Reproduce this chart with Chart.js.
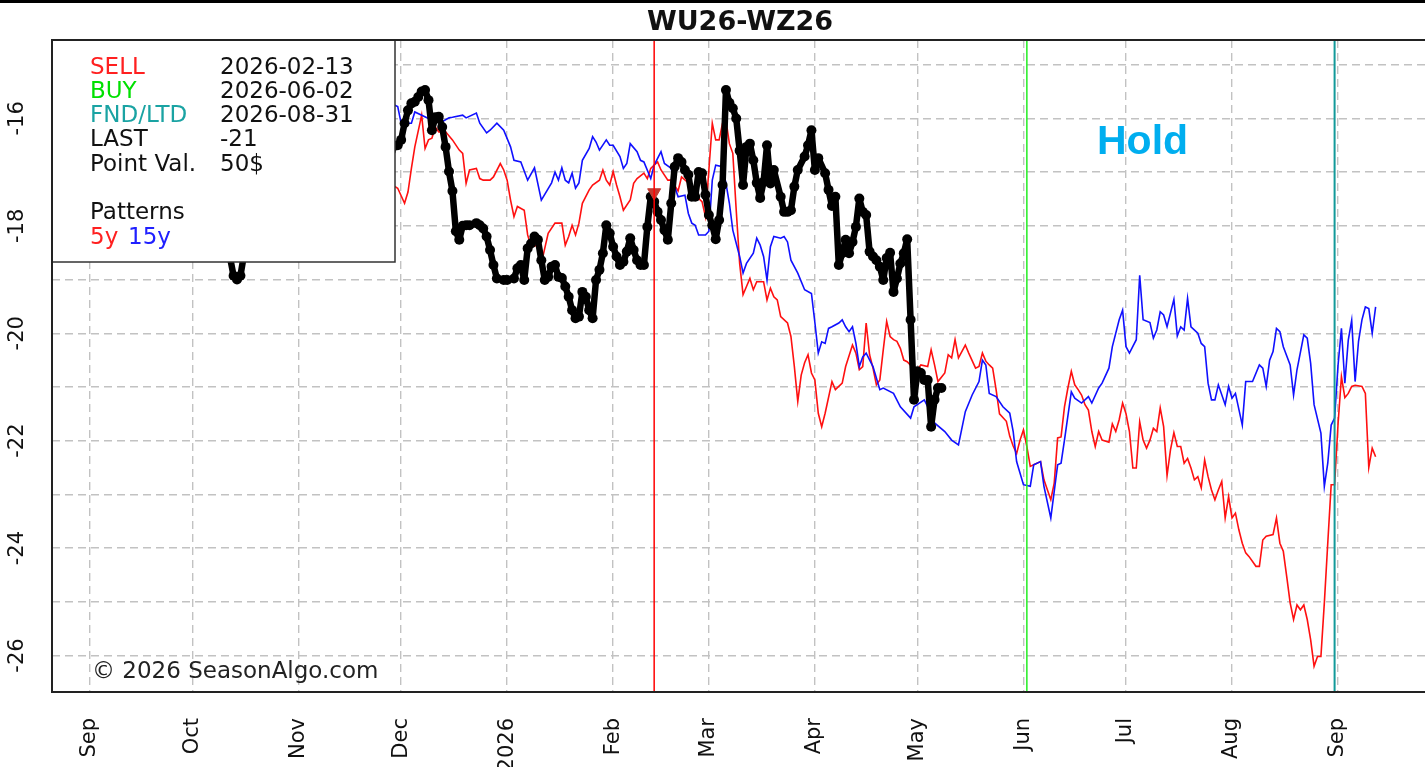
<!DOCTYPE html>
<html><head><meta charset="utf-8">
<script src="https://cdn.jsdelivr.net/npm/chart.js@4.4.1/dist/chart.umd.min.js"></script>
<style>html,body{margin:0;padding:0;background:#fff;overflow:hidden}canvas{display:block}</style>
</head><body>
<canvas id="c" width="1425" height="767"></canvas>
<script>
const chartTitle = "WU26-WZ26";
const monthTickDates = ["2025-09-01","2025-10-01","2025-11-01","2025-12-01","2026-01-01","2026-02-01","2026-03-01","2026-04-01","2026-05-01","2026-06-01","2026-07-01","2026-08-01","2026-09-01"];
const monthTickLabels = ["Sep","Oct","Nov","Dec","2026","Feb","Mar","Apr","May","Jun","Jul","Aug","Sep"];
const yGridValues = [-26,-25,-24,-23,-22,-21,-20,-19,-18,-17,-16,-15];
const yLabelValues = [-26,-24,-22,-20,-18,-16];
const sellDate = "2026-02-13", buyDate = "2026-06-02", fndDate = "2026-08-31";
const sellMarkerValue = -17.38;
const infoLabels = ["SELL","BUY","FND/LTD","LAST","Point Val."];
const infoValues = ["2026-02-13","2026-06-02","2026-08-31","-21","50$"];
const holdText = "Hold";
const copyrightText = "\u00A9 2026 SeasonAlgo.com";

const blackDates = ["2025-10-09","2025-10-12","2025-10-13","2025-10-14","2025-10-15","2025-10-16","2025-10-31","2025-11-15","2025-11-28","2025-11-30",
"2025-12-01","2025-12-02","2025-12-03","2025-12-04","2025-12-05","2025-12-06","2025-12-07","2025-12-08","2025-12-09","2025-12-10",
"2025-12-11","2025-12-12","2025-12-13","2025-12-14","2025-12-15","2025-12-16","2025-12-17","2025-12-18","2025-12-19","2025-12-20",
"2025-12-21","2025-12-23","2025-12-24","2025-12-25","2025-12-26","2025-12-27","2025-12-28","2025-12-29","2025-12-31","2026-01-01",
"2026-01-03","2026-01-04","2026-01-05","2026-01-06","2026-01-07","2026-01-08","2026-01-09","2026-01-10","2026-01-11","2026-01-12",
"2026-01-13","2026-01-14","2026-01-15","2026-01-16","2026-01-17","2026-01-18","2026-01-19","2026-01-20","2026-01-21","2026-01-22",
"2026-01-23","2026-01-24","2026-01-25","2026-01-26","2026-01-27","2026-01-28","2026-01-29","2026-01-30","2026-01-31","2026-02-01",
"2026-02-02","2026-02-03","2026-02-04","2026-02-05","2026-02-06","2026-02-07","2026-02-08","2026-02-09","2026-02-10","2026-02-11",
"2026-02-12","2026-02-13","2026-02-14","2026-02-15","2026-02-16","2026-02-17","2026-02-18","2026-02-19","2026-02-20","2026-02-21",
"2026-02-22","2026-02-23","2026-02-24","2026-02-25","2026-02-26","2026-02-27","2026-02-28","2026-03-01","2026-03-02","2026-03-03",
"2026-03-04","2026-03-05","2026-03-06","2026-03-07","2026-03-08","2026-03-09","2026-03-10","2026-03-11","2026-03-12","2026-03-13",
"2026-03-14","2026-03-15","2026-03-16","2026-03-17","2026-03-18","2026-03-19","2026-03-20","2026-03-22","2026-03-23","2026-03-24",
"2026-03-25","2026-03-26","2026-03-27","2026-03-29","2026-03-30","2026-03-31","2026-04-01","2026-04-02","2026-04-04","2026-04-05",
"2026-04-06","2026-04-07","2026-04-08","2026-04-09","2026-04-10","2026-04-11","2026-04-12","2026-04-13","2026-04-14","2026-04-15",
"2026-04-16","2026-04-17","2026-04-18","2026-04-19","2026-04-20","2026-04-21","2026-04-22","2026-04-23","2026-04-24","2026-04-25",
"2026-04-26","2026-04-27","2026-04-28","2026-04-29","2026-04-30","2026-05-01","2026-05-02","2026-05-03","2026-05-04","2026-05-05",
"2026-05-06","2026-05-07","2026-05-08"];
const blackValues = [-18.0,-18.60,-18.93,-19.00,-18.93,-18.55,-17.6,-17.0,-16.6,-16.50,
-16.40,-16.09,-15.85,-15.72,-15.69,-15.60,-15.50,-15.47,-15.66,-16.22,
-15.98,-15.97,-16.16,-16.53,-16.99,-17.35,-18.10,-18.26,-18.00,-17.99,
-17.99,-17.95,-17.99,-18.05,-18.20,-18.45,-18.73,-18.98,-19.01,-19.01,
-18.98,-18.79,-18.73,-19.01,-18.42,-18.33,-18.20,-18.26,-18.64,-19.01,
-18.95,-18.76,-18.73,-18.95,-18.97,-19.13,-19.32,-19.57,-19.72,-19.69,
-19.23,-19.32,-19.57,-19.72,-19.01,-18.82,-18.51,-17.99,-18.14,-18.39,
-18.57,-18.73,-18.67,-18.48,-18.23,-18.45,-18.64,-18.73,-18.73,-18.02,
-17.46,-17.55,-17.74,-17.89,-18.08,-18.26,-17.58,-16.90,-16.74,-16.81,
-16.96,-17.05,-17.46,-17.46,-17.00,-17.02,-17.42,-17.80,-17.99,-18.25,
-17.89,-17.24,-15.47,-15.71,-15.81,-16.00,-16.60,-17.24,-16.53,-16.47,
-16.78,-17.20,-17.48,-17.18,-16.50,-17.21,-16.96,-17.46,-17.74,-17.74,
-17.71,-17.27,-16.96,-16.71,-16.50,-16.22,-16.96,-16.74,-17.02,-17.33,
-17.63,-17.46,-18.73,-18.51,-18.26,-18.51,-18.30,-18.02,-17.49,-17.74,
-17.80,-18.48,-18.57,-18.64,-18.76,-19.01,-18.60,-18.50,-19.23,-18.98,
-18.70,-18.51,-18.25,-19.75,-21.24,-20.71,-20.74,-20.87,-20.87,-21.74,
-21.24,-21.02,-21.02];

const p5Dates = ["2025-11-29","2025-11-30","2025-12-02","2025-12-03","2025-12-04","2025-12-05","2025-12-07","2025-12-08","2025-12-09","2025-12-10",
"2025-12-11","2025-12-12","2025-12-14","2025-12-16","2025-12-18","2025-12-19","2025-12-20","2025-12-21","2025-12-23","2025-12-24",
"2025-12-25","2025-12-27","2025-12-28","2025-12-30","2025-12-31","2026-01-01","2026-01-02","2026-01-03","2026-01-04","2026-01-06",
"2026-01-07","2026-01-08","2026-01-10","2026-01-11","2026-01-13","2026-01-15","2026-01-17","2026-01-18","2026-01-19","2026-01-20",
"2026-01-21","2026-01-22","2026-01-23","2026-01-25","2026-01-26","2026-01-28","2026-01-29","2026-01-30","2026-01-31","2026-02-01",
"2026-02-02","2026-02-03","2026-02-04","2026-02-06","2026-02-07","2026-02-08","2026-02-10","2026-02-11","2026-02-12","2026-02-14",
"2026-02-15","2026-02-17","2026-02-18","2026-02-20","2026-02-21","2026-02-23","2026-02-25","2026-02-27","2026-02-28","2026-03-02",
"2026-03-03","2026-03-04","2026-03-05","2026-03-06","2026-03-07","2026-03-08","2026-03-09","2026-03-10","2026-03-11","2026-03-12",
"2026-03-13","2026-03-14","2026-03-15","2026-03-17","2026-03-18","2026-03-19","2026-03-20","2026-03-21","2026-03-22","2026-03-24",
"2026-03-25","2026-03-26","2026-03-27","2026-03-28","2026-03-29","2026-03-30","2026-03-31","2026-04-01","2026-04-02","2026-04-03",
"2026-04-04","2026-04-06","2026-04-07","2026-04-09","2026-04-10","2026-04-12","2026-04-13","2026-04-14","2026-04-15","2026-04-16",
"2026-04-17","2026-04-18","2026-04-19","2026-04-20","2026-04-21","2026-04-22","2026-04-23","2026-04-24","2026-04-25","2026-04-26",
"2026-04-27","2026-04-28","2026-04-30","2026-05-01","2026-05-02","2026-05-04","2026-05-05","2026-05-06","2026-05-07","2026-05-09",
"2026-05-10","2026-05-11","2026-05-12","2026-05-13","2026-05-15","2026-05-16","2026-05-18","2026-05-19","2026-05-20","2026-05-21",
"2026-05-22","2026-05-23","2026-05-24","2026-05-25","2026-05-27","2026-05-28","2026-05-29","2026-05-30","2026-05-31","2026-06-01",
"2026-06-02","2026-06-03","2026-06-04","2026-06-06","2026-06-07","2026-06-09","2026-06-10","2026-06-11","2026-06-12","2026-06-13",
"2026-06-14","2026-06-15","2026-06-16","2026-06-17","2026-06-18","2026-06-19","2026-06-20","2026-06-21","2026-06-22","2026-06-23",
"2026-06-24","2026-06-26","2026-06-27","2026-06-28","2026-06-29","2026-06-30","2026-07-01","2026-07-02","2026-07-03","2026-07-04",
"2026-07-05","2026-07-06","2026-07-07","2026-07-08","2026-07-09","2026-07-10","2026-07-11","2026-07-12","2026-07-13","2026-07-14",
"2026-07-15","2026-07-16","2026-07-17","2026-07-18","2026-07-19","2026-07-20","2026-07-21","2026-07-22","2026-07-23","2026-07-24",
"2026-07-25","2026-07-26","2026-07-27","2026-07-28","2026-07-29","2026-07-30","2026-07-31","2026-08-01","2026-08-02","2026-08-03",
"2026-08-04","2026-08-05","2026-08-06","2026-08-08","2026-08-09","2026-08-10","2026-08-11","2026-08-13","2026-08-14","2026-08-15",
"2026-08-16","2026-08-17","2026-08-18","2026-08-19","2026-08-20","2026-08-21","2026-08-22","2026-08-23","2026-08-24","2026-08-25",
"2026-08-26","2026-08-27","2026-08-28","2026-08-29","2026-08-30","2026-08-31","2026-09-01","2026-09-02","2026-09-03","2026-09-04",
"2026-09-05","2026-09-06","2026-09-08","2026-09-09","2026-09-10","2026-09-11","2026-09-12"];
const p5Values = [-17.26,-17.30,-17.58,-17.37,-16.93,-16.53,-15.94,-16.56,-16.40,-16.37,
-16.16,-16.25,-16.25,-16.40,-16.59,-16.65,-17.21,-16.96,-16.93,-17.12,
-17.15,-17.15,-17.09,-16.84,-16.96,-17.15,-17.52,-17.83,-17.64,-17.71,
-18.17,-18.39,-18.36,-18.70,-18.14,-17.95,-17.95,-18.36,-18.20,-17.99,
-18.17,-17.95,-17.58,-17.33,-17.24,-17.15,-16.96,-17.15,-17.24,-16.99,
-17.24,-17.46,-17.71,-17.52,-17.21,-17.12,-17.02,-17.12,-16.93,-16.81,
-16.96,-17.15,-17.15,-17.35,-17.09,-17.20,-17.43,-17.55,-17.83,-16.09,
-16.40,-16.40,-16.09,-16.03,-16.47,-16.65,-17.71,-18.70,-19.28,-19.13,
-18.98,-19.19,-19.04,-19.04,-19.38,-19.16,-19.32,-19.38,-19.69,-19.81,
-20.06,-20.62,-21.27,-20.78,-20.55,-20.40,-20.74,-20.87,-21.49,-21.74,
-21.49,-20.90,-21.05,-20.93,-20.62,-20.22,-20.37,-20.68,-20.62,-19.81,
-20.40,-20.65,-20.96,-20.87,-20.31,-19.78,-20.06,-20.12,-20.15,-20.28,
-20.50,-20.53,-20.66,-20.68,-20.59,-20.62,-20.31,-20.59,-20.90,-20.74,
-20.40,-20.46,-20.12,-20.46,-20.22,-20.37,-20.65,-20.62,-20.37,-20.52,
-20.59,-20.65,-21.05,-21.50,-21.64,-21.92,-22.10,-22.24,-21.99,-21.80,
-22.11,-22.48,-22.45,-22.39,-22.73,-23.10,-22.79,-21.95,-21.93,-21.37,
-21.02,-20.71,-20.96,-21.05,-21.15,-21.33,-21.43,-21.83,-22.11,-21.83,
-21.99,-22.03,-21.69,-21.83,-21.61,-21.30,-21.50,-21.83,-22.51,-22.51,
-21.65,-21.99,-22.14,-21.99,-21.77,-21.83,-21.39,-21.74,-22.65,-22.17,
-21.85,-22.11,-22.11,-22.42,-22.33,-22.51,-22.73,-22.67,-22.88,-22.36,
-22.67,-22.92,-23.10,-22.92,-22.76,-23.44,-23.04,-23.44,-23.35,-23.66,
-23.91,-24.09,-24.16,-24.34,-24.34,-23.85,-23.78,-23.75,-23.44,-23.91,
-24.06,-24.53,-25.02,-25.33,-25.06,-25.15,-25.06,-25.33,-25.71,-26.20,
-26.02,-26.02,-25.02,-23.91,-22.82,-22.82,-21.70,-20.81,-21.20,-21.12,
-20.99,-20.97,-20.99,-21.12,-22.50,-22.14,-22.30];

const p15Dates = ["2025-11-29","2025-11-30","2025-12-01","2025-12-04","2025-12-05","2025-12-09","2025-12-11","2025-12-13","2025-12-15","2025-12-16",
"2025-12-19","2025-12-20","2025-12-23","2025-12-24","2025-12-26","2025-12-27","2025-12-29","2025-12-31","2026-01-02","2026-01-03",
"2026-01-05","2026-01-07","2026-01-09","2026-01-11","2026-01-14","2026-01-15","2026-01-16","2026-01-17","2026-01-18","2026-01-19",
"2026-01-20","2026-01-21","2026-01-22","2026-01-23","2026-01-25","2026-01-26","2026-01-27","2026-01-28","2026-01-30","2026-01-31",
"2026-02-01","2026-02-03","2026-02-04","2026-02-05","2026-02-06","2026-02-08","2026-02-09","2026-02-10","2026-02-12","2026-02-13",
"2026-02-15","2026-02-16","2026-02-18","2026-02-19","2026-02-20","2026-02-22","2026-02-23","2026-02-24","2026-02-25","2026-02-26",
"2026-02-28","2026-03-01","2026-03-02","2026-03-03","2026-03-05","2026-03-06","2026-03-07","2026-03-08","2026-03-10","2026-03-11",
"2026-03-12","2026-03-14","2026-03-15","2026-03-16","2026-03-17","2026-03-18","2026-03-19","2026-03-20","2026-03-22","2026-03-23",
"2026-03-24","2026-03-25","2026-03-27","2026-03-29","2026-03-31","2026-04-01","2026-04-02","2026-04-03","2026-04-04","2026-04-05",
"2026-04-06","2026-04-08","2026-04-09","2026-04-10","2026-04-11","2026-04-12","2026-04-13","2026-04-14","2026-04-15","2026-04-16",
"2026-04-18","2026-04-20","2026-04-21","2026-04-24","2026-04-26","2026-04-29","2026-04-30","2026-05-03","2026-05-05","2026-05-06",
"2026-05-09","2026-05-11","2026-05-13","2026-05-15","2026-05-17","2026-05-19","2026-05-20","2026-05-21","2026-05-22","2026-05-24",
"2026-05-26","2026-05-28","2026-05-29","2026-05-30","2026-06-01","2026-06-03","2026-06-04","2026-06-06","2026-06-07","2026-06-09",
"2026-06-11","2026-06-12","2026-06-13","2026-06-15","2026-06-16","2026-06-18","2026-06-20","2026-06-21","2026-06-23","2026-06-24",
"2026-06-26","2026-06-27","2026-06-29","2026-06-30","2026-07-01","2026-07-02","2026-07-04","2026-07-05","2026-07-06","2026-07-08",
"2026-07-09","2026-07-10","2026-07-11","2026-07-12","2026-07-13","2026-07-15","2026-07-16","2026-07-17","2026-07-18","2026-07-19",
"2026-07-20","2026-07-22","2026-07-23","2026-07-24","2026-07-25","2026-07-26","2026-07-27","2026-07-28","2026-07-30","2026-07-31",
"2026-08-01","2026-08-02","2026-08-04","2026-08-05","2026-08-07","2026-08-09","2026-08-10","2026-08-11","2026-08-12","2026-08-13",
"2026-08-14","2026-08-15","2026-08-16","2026-08-18","2026-08-19","2026-08-20","2026-08-22","2026-08-23","2026-08-24","2026-08-25",
"2026-08-27","2026-08-28","2026-08-29","2026-08-30","2026-08-31","2026-09-01","2026-09-02","2026-09-03","2026-09-04","2026-09-05",
"2026-09-06","2026-09-07","2026-09-08","2026-09-09","2026-09-10","2026-09-11","2026-09-12"];
const p15Values = [-15.75,-15.78,-16.09,-16.09,-15.88,-16.00,-16.07,-16.06,-15.99,-15.98,
-15.94,-15.99,-15.90,-16.09,-16.27,-16.22,-16.09,-16.22,-16.53,-16.78,
-16.81,-17.15,-16.92,-17.52,-17.20,-17.00,-17.15,-16.92,-17.15,-17.20,
-17.02,-17.30,-17.20,-16.78,-16.56,-16.34,-16.44,-16.59,-16.40,-16.50,
-16.50,-16.71,-16.93,-16.84,-16.47,-16.62,-16.78,-16.81,-17.12,-16.87,
-16.62,-16.84,-16.93,-17.27,-17.46,-17.43,-17.77,-17.95,-17.99,-18.17,
-18.17,-18.10,-17.15,-16.87,-16.90,-17.21,-17.58,-18.08,-18.57,-18.88,
-18.70,-18.51,-18.23,-18.36,-18.57,-19.01,-18.39,-18.20,-18.23,-18.20,
-18.30,-18.64,-18.88,-19.19,-19.26,-19.80,-20.37,-20.16,-20.19,-19.91,
-19.88,-19.81,-19.75,-19.88,-19.97,-19.88,-20.19,-20.62,-20.44,-20.37,
-20.62,-21.05,-21.02,-21.12,-21.37,-21.58,-21.37,-21.24,-21.49,-21.67,
-21.83,-21.99,-22.08,-21.46,-21.15,-20.90,-20.50,-20.59,-21.12,-21.18,
-21.37,-21.49,-21.83,-22.39,-22.82,-22.85,-22.45,-22.39,-22.85,-23.44,
-22.45,-22.42,-21.99,-21.09,-21.21,-21.30,-21.18,-21.30,-21.02,-20.93,
-20.65,-20.25,-19.75,-19.57,-20.25,-20.37,-20.12,-18.92,-19.75,-19.80,
-20.09,-19.94,-19.60,-19.66,-19.88,-19.37,-20.05,-19.88,-19.94,-19.35,
-19.88,-20.00,-20.19,-20.25,-20.93,-21.24,-21.24,-20.96,-21.33,-20.99,
-21.21,-21.12,-21.71,-20.90,-20.90,-20.59,-20.65,-20.99,-20.50,-20.34,
-19.91,-19.97,-20.25,-20.59,-21.15,-20.68,-20.03,-20.09,-20.56,-21.33,
-21.86,-22.85,-22.42,-21.71,-21.58,-20.60,-19.91,-20.93,-20.13,-19.76,
-20.90,-20.15,-19.75,-19.51,-19.54,-20.00,-19.51];

const EPOCH = Date.UTC(2025, 8, 1);
function dayOf(s) { const p = s.split('-').map(Number); return (Date.UTC(p[0], p[1]-1, p[2]) - EPOCH) / 86400000; }
function pts(dates, vals) { return dates.map((d, i) => ({x: dayOf(d), y: vals[i]})); }

const FONT = "'DejaVu Sans', sans-serif";
const gridStyle = {color: '#c2c2c2', lineWidth: 1.4, drawTicks: false};

const decor = {
  id: 'decor',
  beforeDraw(chart) {
    const ctx = chart.ctx;
    ctx.save();
    ctx.fillStyle = '#fff';
    ctx.fillRect(0, 0, chart.width, chart.height);
    ctx.fillStyle = '#000';
    ctx.fillRect(0, 0, chart.width, 3);
    ctx.restore();
  },
  afterDatasetsDraw(chart) {
    const ctx = chart.ctx, a = chart.chartArea;
    const xs = chart.scales.x, ys = chart.scales.y;
    ctx.save();
    const vline = (date, color, w) => {
      const x = xs.getPixelForValue(dayOf(date));
      ctx.strokeStyle = color; ctx.lineWidth = w; ctx.setLineDash([]);
      ctx.beginPath(); ctx.moveTo(x, a.top); ctx.lineTo(x, a.bottom); ctx.stroke();
    };
    vline(sellDate, '#ff0000', 1.5);
    vline(buyDate, '#22ee22', 1.5);
    vline(fndDate, '#139a9a', 2);
    // info box
    const bx = a.left, by = a.top, bw = 343, bh = 222;
    ctx.fillStyle = '#fff';
    ctx.fillRect(bx, by, bw, bh);
    ctx.strokeStyle = '#333'; ctx.lineWidth = 1.5;
    ctx.strokeRect(bx, by, bw, bh);
    ctx.font = '23px ' + FONT;
    ctx.textBaseline = 'alphabetic'; ctx.textAlign = 'left';
    const labColors = ['#ff2020', '#00e000', '#1aa3a3', '#111', '#111'];
    const lh = 24.3, b0 = 73.5;
    infoLabels.forEach((t, i) => {
      ctx.fillStyle = labColors[i]; ctx.fillText(t, 90, b0 + lh * i);
      ctx.fillStyle = '#111'; ctx.fillText(infoValues[i], 220, b0 + lh * i);
    });
    ctx.fillStyle = '#111'; ctx.fillText('Patterns', 90, b0 + lh * 6);
    ctx.fillStyle = '#ff2020'; ctx.fillText('5y', 90, b0 + lh * 7);
    ctx.fillStyle = '#2020ff'; ctx.fillText('15y', 128, b0 + lh * 7);
    // Hold
    ctx.font = "bold 41px 'Liberation Sans', Arial, sans-serif";
    ctx.fillStyle = '#00aeef';
    ctx.fillText(holdText, 1097, 154);
    // copyright
    ctx.font = '23px ' + FONT;
    ctx.fillStyle = '#222';
    ctx.fillText(copyrightText, 92, 678);
    // y labels
    ctx.font = '21px ' + FONT;
    ctx.fillStyle = '#111';
    ctx.textAlign = 'center'; ctx.textBaseline = 'middle';
    yLabelValues.forEach(v => {
      const y = ys.getPixelForValue(v);
      ctx.save(); ctx.translate(18, y); ctx.rotate(-Math.PI / 2);
      ctx.fillText(String(v), 0, 0); ctx.restore();
    });
    // title
    ctx.font = 'bold 27px ' + FONT;
    ctx.textAlign = 'center'; ctx.textBaseline = 'alphabetic';
    ctx.fillStyle = '#111';
    ctx.fillText(chartTitle, 740, 30);
    // frame
    ctx.strokeStyle = '#222'; ctx.lineWidth = 2;
    ctx.beginPath();
    ctx.moveTo(chart.width, a.top); ctx.lineTo(a.left, a.top); ctx.lineTo(a.left, a.bottom); ctx.lineTo(chart.width, a.bottom);
    ctx.stroke();
    ctx.restore();
  }
};

Chart.defaults.font.family = FONT;
new Chart(document.getElementById('c'), {
  type: 'line',
  data: {
    datasets: [
      {label: 'sell', data: [{x: dayOf(sellDate), y: sellMarkerValue}], showLine: false, pointStyle: 'triangle', rotation: 180, pointRadius: 7.5, pointBackgroundColor: '#c23a30', pointBorderColor: '#c23a30', order: 0},
      {label: 'actual', data: pts(blackDates, blackValues), borderColor: '#000', borderWidth: 6.5, pointRadius: 5, pointBackgroundColor: '#000', pointBorderColor: '#000', pointBorderWidth: 0, borderJoinStyle: 'round', borderCapStyle: 'round', tension: 0, order: 1},
      {label: '15y', data: pts(p15Dates, p15Values), borderColor: '#1010ff', borderWidth: 1.6, pointRadius: 0, tension: 0, order: 2},
      {label: '5y', data: pts(p5Dates, p5Values), borderColor: '#ff1010', borderWidth: 1.6, pointRadius: 0, tension: 0, order: 3}
    ]
  },
  options: {
    responsive: false, animation: false, devicePixelRatio: 1, events: [],
    layout: {autoPadding: false, padding: {top: 40, left: 0, right: 0, bottom: 0}},
    plugins: {legend: {display: false}, tooltip: {enabled: false}, title: {display: false}},
    scales: {
      x: {
        type: 'linear', min: -11.11, max: 390.44,
        afterBuildTicks: s => { s.ticks = monthTickDates.map(d => ({value: dayOf(d)})); },
        afterFit: s => { s.height = 75; s.paddingLeft = 0; s.paddingRight = 0; },
        ticks: {autoSkip: false, minRotation: 90, maxRotation: 90, padding: 26, color: '#111', font: {size: 21, family: FONT},
          callback: (v, i) => monthTickLabels[i]},
        grid: gridStyle,
        border: {display: false, dash: [8, 5]}
      },
      y: {
        type: 'linear', min: -26.68, max: -14.54,
        afterBuildTicks: s => { s.ticks = yGridValues.map(v => ({value: v})); },
        afterFit: s => { s.width = 52; s.paddingTop = 0; s.paddingBottom = 0; },
        ticks: {display: false},
        grid: gridStyle,
        border: {display: false, dash: [8, 5]}
      }
    }
  },
  plugins: [decor]
});
</script>
</body></html>
